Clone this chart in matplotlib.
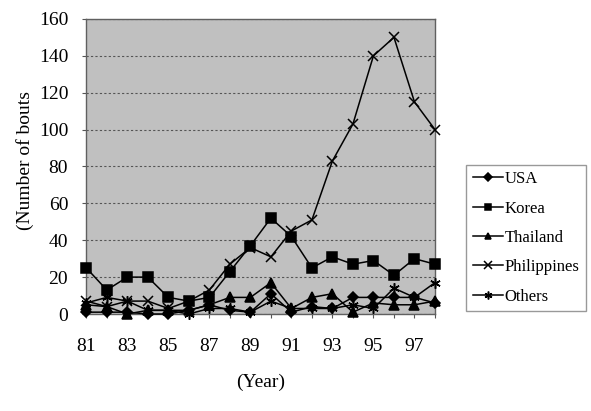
import numpy as np
import matplotlib
matplotlib.use("Agg")
import matplotlib.pyplot as plt

plt.rcParams["font.family"] = ["Liberation Serif", "DejaVu Serif"]

years = list(range(81, 99))
usa = [1, 1, 1, 0, 0, 2, 5, 2, 1, 11, 1, 4, 3, 9, 9, 9, 9, 6]
korea = [25, 13, 20, 20, 9, 7, 9, 23, 37, 52, 42, 25, 31, 27, 29, 21, 30, 27]
thailand = [5, 4, 0, 2, 2, 2, 5, 9, 9, 17, 3, 9, 11, 1, 6, 5, 5, 7]
philippines = [7, 4, 7, 7, 3, 7, 13, 27, 36, 31, 45, 51, 83, 103, 140, 150, 115, 100]
others = [6, 9, 7, 2, 2, 0, 3, 3, 1, 7, 3, 3, 3, 5, 3, 14, 9, 17]

series = [
    ("USA", usa, "D", 5),
    ("Korea", korea, "s", 6.5),
    ("Thailand", thailand, "^", 6.5),
    ("Philippines", philippines, "x", 7),
    ("Others", others, (6, 2, 0), 7.5),
]

fig = plt.figure(figsize=(5.91, 4.11), dpi=100, facecolor="white")
ax = fig.add_axes([0.146, 0.236, 0.59, 0.718])
ax.set_facecolor("#c0c0c0")

for name, vals, mk, ms in series:
    ax.plot(years, vals, color="black", lw=1.1, marker=mk, markersize=ms,
            markeredgewidth=1.1, markerfacecolor="black", markeredgecolor="black",
            label=name, clip_on=False, zorder=3)

ax.set_xlim(81, 98)
ax.set_ylim(0, 160)
ax.set_yticks(range(0, 161, 20))
ax.set_xticks(years)
ax.set_xticklabels([str(y) if y % 2 == 1 else "" for y in years])
ax.tick_params(axis="both", labelsize=14, length=3, color="#555555", direction="out")
ax.tick_params(axis="x", pad=14)
ax.tick_params(axis="y", pad=10)
ax.yaxis.grid(True, linestyle=(0, (2, 2)), color="#555555", lw=0.8)
ax.set_axisbelow(True)
for s in ax.spines.values():
    s.set_color("#606060")
    s.set_linewidth(1.0)

ax.set_xlabel("(Year)", fontsize=14, labelpad=14)
ax.set_ylabel("(Number of bouts", fontsize=14)
ax.yaxis.set_label_coords(-0.15, 0.52)

leg = ax.legend(loc="center left", bbox_to_anchor=(1.089, 0.258), fontsize=12,
                frameon=True, fancybox=False, edgecolor="#808080",
                handlelength=1.8, handletextpad=0.1, labelspacing=0.8,
                borderpad=0.4, borderaxespad=0, markerscale=0.75)
leg.get_frame().set_linewidth(1.0)

fig.savefig("out.png", dpi=100, facecolor="white")
